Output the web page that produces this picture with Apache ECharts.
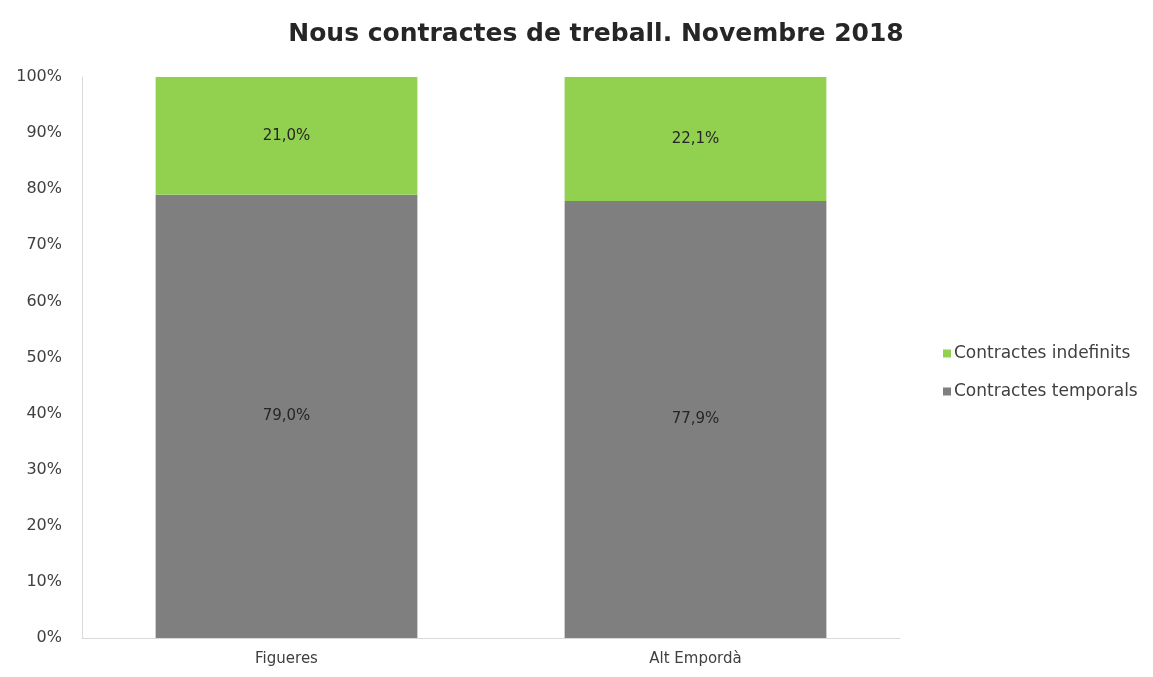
<!DOCTYPE html>
<html>
<head>
<meta charset="utf-8">
<script src="https://cdn.jsdelivr.net/npm/echarts@6/dist/echarts.min.js"></script>
<style>
  html, body { margin: 0; padding: 0; background: #fff; }
  #chart { width: 1153px; height: 677px; }
</style>
</head>
<body>
<div id="chart"></div>
<script>
var categories = ['Figueres', 'Alt Empordà']
var temporals = [79.0, 77.9]
var indefinits = [21.0, 22.1]
var yTicks = [0, 10, 20, 30, 40, 50, 60, 70, 80, 90, 100]

var font = '"DejaVu Sans", "Open Sans", sans-serif'

function fmt (v) {
  return v.toFixed(1).replace('.', ',') + '%'
}

var myChart = echarts.init(document.getElementById('chart'))
myChart.setOption({
  textStyle: { fontFamily: font },
  title: {
    text: 'Nous contractes de treball. Novembre 2018',
    left: 591,
    textAlign: 'center',
    top: 17,
    textStyle: { fontSize: 25, fontWeight: 'bold', color: '#262626', fontFamily: font }
  },
  legend: {
    orient: 'vertical',
    left: 938,
    top: 340,
    itemWidth: 8,
    itemHeight: 8,
    itemGap: 21,
    icon: 'rect',
    data: ['Contractes indefinits', 'Contractes temporals'],
    textStyle: { fontSize: 17, color: '#404040', padding: [0, 0, 0, -2] }
  },
  grid: { left: 82, right: 253, top: 77, bottom: 39 },
  xAxis: {
    type: 'category',
    data: categories,
    axisLine: { lineStyle: { color: '#d9d9d9' } },
    axisTick: { show: false },
    axisLabel: { fontSize: 15, color: '#404040', margin: 14 }
  },
  yAxis: {
    type: 'value',
    min: 0,
    max: 100,
    interval: 10,
    axisLine: { show: true, lineStyle: { color: '#d9d9d9' } },
    splitLine: { show: false },
    axisLabel: {
      fontSize: 16,
      color: '#404040',
      margin: 20,
      formatter: function (v) { return yTicks.indexOf(v) >= 0 ? v + '%' : '' }
    }
  },
  series: [
    {
      name: 'Contractes temporals',
      type: 'bar',
      stack: 'total',
      barWidth: '64%',
      itemStyle: { color: '#7f7f7f' },
      label: {
        show: true,
        fontSize: 15,
        color: '#262626',
        formatter: function (p) { return fmt(p.value) }
      },
      data: temporals
    },
    {
      name: 'Contractes indefinits',
      type: 'bar',
      stack: 'total',
      barWidth: '64%',
      itemStyle: { color: '#92d050' },
      label: {
        show: true,
        fontSize: 15,
        color: '#262626',
        formatter: function (p) { return fmt(p.value) }
      },
      data: indefinits
    }
  ]
})
</script>
</body>
</html>
